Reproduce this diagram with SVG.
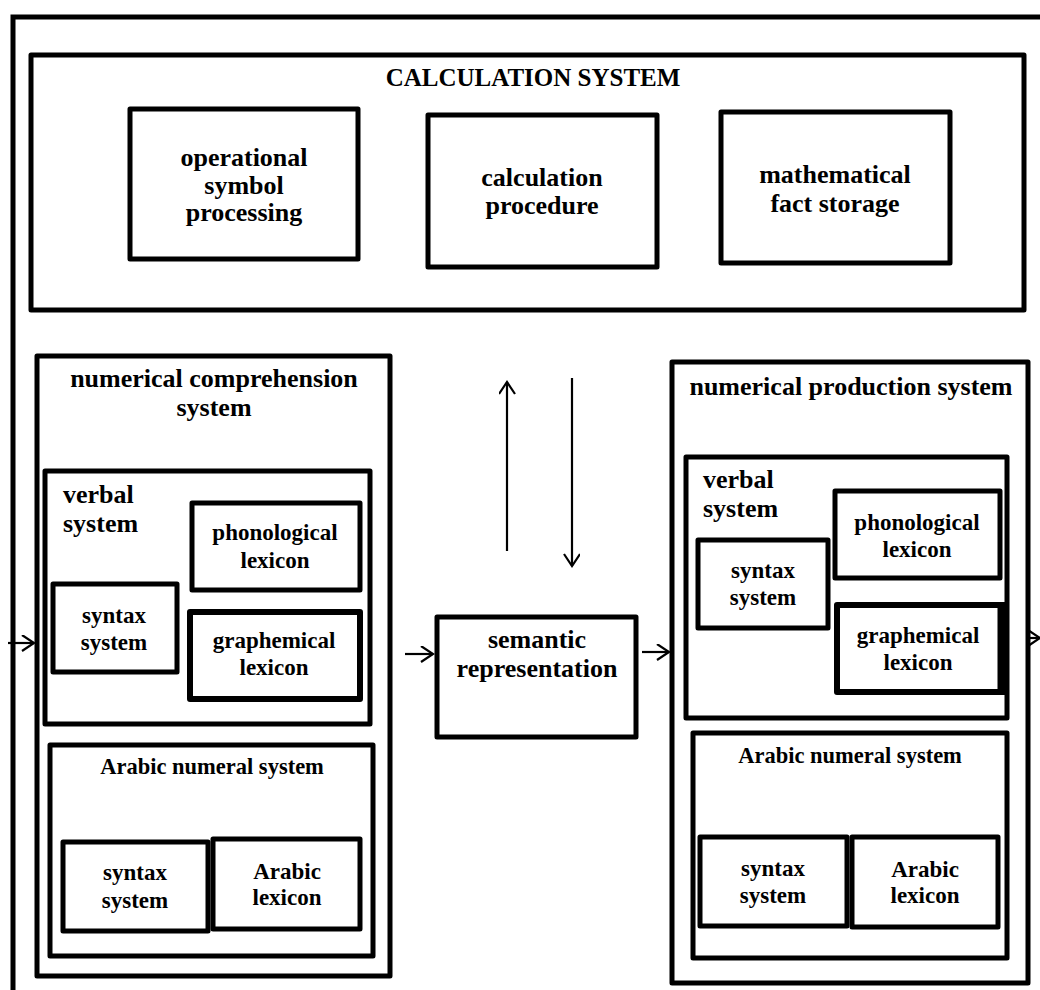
<svg xmlns="http://www.w3.org/2000/svg" width="1040" height="990" viewBox="0 0 1040 990">
<defs>
<marker id="ah" markerWidth="20" markerHeight="20" refX="14" refY="8" orient="auto" markerUnits="userSpaceOnUse">
<path d="M2,0 L14,8 L2,16" fill="none" stroke="#000" stroke-width="2.2" stroke-linejoin="miter"/>
</marker>
<style>
.b{fill:#fff;stroke:#000;stroke-width:5;stroke-linejoin:round}
.b6{fill:#fff;stroke:#000;stroke-width:6;stroke-linejoin:round}
text{font-family:"Liberation Serif","Times New Roman",serif;font-weight:bold;fill:#000;text-anchor:middle}
.t0{font-size:25px}
.t1{font-size:26px}
.t2{font-size:26px}
.t3{font-size:23px}
.t4{font-size:22.5px}
.l{text-anchor:start}
.c{fill:none;stroke:#000;stroke-width:2.2}
</style>
</defs>
<rect x="13" y="17" width="1040" height="1000" fill="none" stroke="#000" stroke-width="5"/>

<g id="calculation-system">
<rect class="b" x="31" y="55" width="993" height="255"/>
<text class="t0" x="533" y="86">CALCULATION SYSTEM</text>
</g>
<g id="operational-symbol-processing">
<rect class="b" x="130" y="109" width="228" height="150"/>
<text class="t1" x="244" y="166">operational</text>
<text class="t1" x="244" y="194">symbol</text>
<text class="t1" x="244" y="221">processing</text>
</g>
<g id="calculation-procedure">
<rect class="b" x="428" y="115" width="229" height="152"/>
<text class="t1" x="542" y="186">calculation</text>
<text class="t1" x="542" y="214">procedure</text>
</g>
<g id="mathematical-fact-storage">
<rect class="b" x="721" y="112" width="229" height="151"/>
<text class="t1" x="835" y="183">mathematical</text>
<text class="t1" x="835" y="212">fact storage</text>
</g>

<g id="numerical-comprehension-system">
<rect class="b" x="37" y="356" width="353" height="620"/>
<text class="t2" x="214" y="387">numerical comprehension</text>
<text class="t2" x="214" y="416">system</text>
</g>
<g id="verbal-system-comp">
<rect class="b" x="45" y="471" width="325" height="253"/>
<text class="t2 l" x="63" y="503">verbal</text>
<text class="t2 l" x="63" y="532">system</text>
</g>
<g id="phonological-lexicon-comp">
<rect class="b" x="192" y="503" width="168" height="87"/>
<text class="t3" x="275" y="540">phonological</text>
<text class="t3" x="275" y="568">lexicon</text>
</g>
<g id="syntax-system-comp-verbal">
<rect class="b" x="53" y="584" width="124" height="88"/>
<text class="t3" x="114" y="623">syntax</text>
<text class="t3" x="114" y="650">system</text>
</g>
<g id="graphemical-lexicon-comp">
<rect class="b6" x="190" y="612" width="170" height="87"/>
<text class="t3" x="274" y="648">graphemical</text>
<text class="t3" x="274" y="675">lexicon</text>
</g>
<g id="arabic-numeral-system-comp">
<rect class="b" x="50" y="745" width="323" height="211"/>
<text class="t4" x="212" y="774">Arabic numeral system</text>
</g>
<g id="syntax-system-comp-arabic">
<rect class="b" x="63" y="842" width="145" height="89"/>
<text class="t3" x="135" y="880">syntax</text>
<text class="t3" x="135" y="908">system</text>
</g>
<g id="arabic-lexicon-comp">
<rect class="b" x="213" y="839" width="147" height="90"/>
<text class="t3" x="287" y="879">Arabic</text>
<text class="t3" x="287" y="905">lexicon</text>
</g>

<g id="semantic-representation">
<rect class="b" x="437" y="617" width="199" height="120"/>
<text class="t2" x="537" y="648">semantic</text>
<text class="t2" x="537" y="677">representation</text>
</g>

<g id="numerical-production-system">
<rect class="b" x="672" y="362" width="356" height="621"/>
<text class="t2" x="851" y="395">numerical production system</text>
</g>
<g id="verbal-system-prod">
<rect class="b" x="686" y="457" width="321" height="261"/>
<text class="t2 l" x="703" y="488">verbal</text>
<text class="t2 l" x="703" y="517">system</text>
</g>
<g id="syntax-system-prod-verbal">
<rect class="b" x="698" y="540" width="130" height="88"/>
<text class="t3" x="763" y="578">syntax</text>
<text class="t3" x="763" y="605">system</text>
</g>
<g id="phonological-lexicon-prod">
<rect class="b" x="835" y="491" width="165" height="87"/>
<text class="t3" x="917" y="530">phonological</text>
<text class="t3" x="917" y="557">lexicon</text>
</g>
<g id="graphemical-lexicon-prod">
<rect class="b6" x="837" y="605" width="165" height="87"/>
<line x1="1002" y1="602" x2="1002" y2="695" stroke="#000" stroke-width="9"/>
<text class="t3" x="918" y="643">graphemical</text>
<text class="t3" x="918" y="670">lexicon</text>
</g>
<g id="arabic-numeral-system-prod">
<rect class="b" x="693" y="733" width="314" height="225"/>
<text class="t4" x="850" y="763">Arabic numeral system</text>
</g>
<g id="syntax-system-prod-arabic">
<rect class="b" x="700" y="837" width="147" height="89"/>
<text class="t3" x="773" y="876">syntax</text>
<text class="t3" x="773" y="903">system</text>
</g>
<g id="arabic-lexicon-prod">
<rect class="b" x="852" y="837" width="146" height="90"/>
<text class="t3" x="925" y="877">Arabic</text>
<text class="t3" x="925" y="903">lexicon</text>
</g>

<g id="connectors">
<line class="c" x1="8" y1="643" x2="34" y2="643" marker-end="url(#ah)"/>
<line class="c" x1="405" y1="654" x2="433" y2="654" marker-end="url(#ah)"/>
<line class="c" x1="642" y1="652" x2="669" y2="652" marker-end="url(#ah)"/>
<line class="c" x1="1028" y1="638" x2="1040" y2="638" marker-end="url(#ah)"/>
<line class="c" x1="507" y1="551" x2="507" y2="382" marker-end="url(#ah)"/>
<line class="c" x1="572" y1="378" x2="572" y2="566" marker-end="url(#ah)"/>
</g>
</svg>
